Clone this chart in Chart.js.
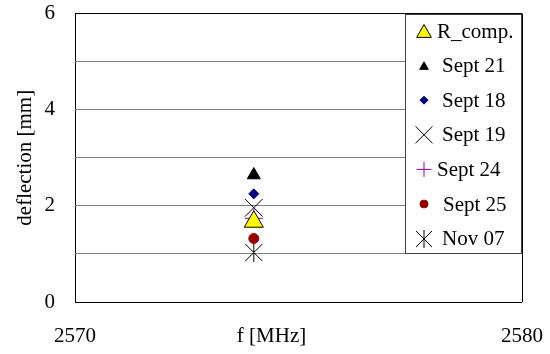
<!DOCTYPE html>
<html>
<head>
<meta charset="utf-8">
<script src="https://cdn.jsdelivr.net/npm/chart.js@4/dist/chart.umd.min.js"></script>
<style>
  html, body { margin: 0; padding: 0; background: #ffffff; }
  #wrap { width: 550px; height: 354px; }
</style>
</head>
<body>
<div id="wrap"><canvas id="c" width="550" height="354"></canvas></div>
<script>
// Measured deflection per run, all taken at the same frequency
const seriesNames   = ['R_comp.', 'Sept 21', 'Sept 18', 'Sept 19', 'Sept 24', 'Sept 25', 'Nov 07'];
const frequencyMHz  = [2574, 2574, 2574, 2574, 2574, 2574, 2574];
const deflectionMm  = [1.67, 2.64, 2.25, 1.96, 1.74, 1.32, 1.03];
const xTickValues   = [2570, 2580];
const yTickLabels   = [0, 2, 4, 6];

const FONT = '"Liberation Serif"';
Chart.defaults.font.family = FONT;

// Six-armed star (X plus a vertical bar) used for the Nov 07 run
function makeAsterisk(size) {
  const c = document.createElement('canvas');
  c.width = size; c.height = size;
  const g = c.getContext('2d');
  const m = size / 2, a = size / 2 - 1;
  g.strokeStyle = '#000000';
  g.lineWidth = 1;
  g.beginPath();
  g.moveTo(m - a, m - a); g.lineTo(m + a, m + a);
  g.moveTo(m + a, m - a); g.lineTo(m - a, m + a);
  g.moveTo(m, m - a - 1); g.lineTo(m, m + a + 1);
  g.stroke();
  return c;
}
const asteriskPlot = makeAsterisk(19);
const asteriskLegend = makeAsterisk(18);

// Marker style of each run, in the plot and in the legend
const markerStyles = [
  { pointStyle: 'triangle', radius: 11,  bg: '#FFFF00', border: '#000000', bw: 1, legendRadius: 8.5, textDx: 32 },
  { pointStyle: 'triangle', radius: 7.5, bg: '#000000', border: '#000000', bw: 1, legendRadius: 5,   textDx: 37 },
  { pointStyle: 'rectRot',  radius: 5,   bg: '#000080', border: '#000080', bw: 1, legendRadius: 4,   textDx: 37 },
  { pointStyle: 'crossRot', radius: 12.5,bg: '#000000', border: '#000000', bw: 1, legendRadius: 12,  textDx: 37 },
  { pointStyle: 'cross',    radius: 9,   bg: '#990099', border: '#990099', bw: 1, legendRadius: 7.5, textDx: 32 },
  { pointStyle: 'circle',   radius: 5,   bg: '#990000', border: '#990000', bw: 1, legendRadius: 4,   textDx: 38 },
  { pointStyle: asteriskPlot, radius: 9, bg: '#000000', border: '#000000', bw: 1, legendImage: asteriskLegend, textDx: 37 }
];

const datasets = seriesNames.map((name, i) => ({
  label: name,
  data: [{ x: frequencyMHz[i], y: deflectionMm[i] }],
  showLine: false,
  pointStyle: markerStyles[i].pointStyle,
  pointRadius: markerStyles[i].radius,
  pointHoverRadius: markerStyles[i].radius,
  pointBackgroundColor: markerStyles[i].bg,
  pointBorderColor: markerStyles[i].border,
  pointBorderWidth: markerStyles[i].bw
}));

// Boxed legend in the top-right corner of the plot area
const boxedLegend = {
  id: 'boxedLegend',
  afterDraw(chart) {
    const ctx = chart.ctx;
    const area = chart.chartArea;
    const right = Math.round(area.right), top = Math.round(area.top);
    const left = right - 117, bottom = top + 239;
    ctx.save();
    ctx.fillStyle = '#ffffff';
    ctx.fillRect(left, top, right - left, bottom - top);
    ctx.strokeStyle = '#404040';
    ctx.lineWidth = 1;
    ctx.strokeRect(left + 0.5, top + 0.5, right - left - 1, bottom - top);
    ctx.font = '21px ' + FONT;
    ctx.textBaseline = 'middle';
    ctx.textAlign = 'left';
    seriesNames.forEach((name, i) => {
      const st = markerStyles[i];
      const y = top + 17 + i * 34.6;
      const mx = left + 19;
      if (st.legendImage) {
        ctx.drawImage(st.legendImage, Math.round(mx - st.legendImage.width / 2), Math.round(y - st.legendImage.height / 2));
      } else if (Chart.helpers && Chart.helpers.drawPoint) {
        ctx.fillStyle = st.bg;
        ctx.strokeStyle = st.border;
        ctx.lineWidth = st.bw;
        Chart.helpers.drawPoint(ctx, { pointStyle: st.pointStyle, radius: st.legendRadius, rotation: 0, borderWidth: st.bw }, mx, y + (st.pointStyle === 'triangle' ? st.legendRadius / 4 : 0));
      }
      ctx.fillStyle = '#000000';
      ctx.font = '21px ' + FONT;
      ctx.fillText(name, left + st.textDx, y + 1);
    });
    ctx.restore();
  }
};

// Horizontal axis caption, sitting on the same line as the tick labels
const xCaption = {
  id: 'xCaption',
  afterDraw(chart) {
    const ctx = chart.ctx;
    const area = chart.chartArea;
    ctx.save();
    ctx.font = '21px ' + FONT;
    ctx.fillStyle = '#000000';
    ctx.textAlign = 'center';
    ctx.textBaseline = 'alphabetic';
    ctx.fillText('f [MHz]', (area.left + area.right) / 2 - 27, area.bottom + 40);
    ctx.restore();
  }
};

new Chart(document.getElementById('c'), {
  type: 'scatter',
  data: { datasets },
  options: {
    responsive: false,
    animation: false,
    devicePixelRatio: 1,
    layout: { padding: { top: 11, right: 28, left: 0, bottom: 0 } },
    plugins: { legend: { display: false }, tooltip: { enabled: false } },
    scales: {
      x: {
        type: 'linear',
        min: 2570,
        max: 2580,
        afterBuildTicks: (scale) => { scale.ticks = xTickValues.map(v => ({ value: v })); },
        afterFit: (scale) => { scale.height = 52; },
        ticks: {
          color: '#000000',
          font: { family: FONT, size: 21, lineHeight: 1 },
          padding: 0,
          maxRotation: 0,
          autoSkip: false,
          callback: (v) => String(v)
        },
        grid: { color: '#000000', lineWidth: 1, drawTicks: true, tickLength: 24, tickColor: 'rgba(0,0,0,0)' },
        border: { display: false }
      },
      y: {
        min: 0,
        max: 6,
        afterFit: (scale) => { scale.width = 75; },
        ticks: {
          stepSize: 1,
          autoSkip: false,
          color: '#000000',
          font: { family: FONT, size: 21, lineHeight: 1 },
          padding: 0,
          callback: (v) => (yTickLabels.includes(v) ? String(v) : '')
        },
        grid: {
          lineWidth: 1,
          drawTicks: true,
          tickLength: 20,
          tickColor: 'rgba(0,0,0,0)',
          color: (ctx) => (ctx.tick && (ctx.tick.value === 0 || ctx.tick.value === 6) ? '#000000' : '#808080')
        },
        border: { display: false },
        title: {
          display: true,
          text: 'deflection [mm]',
          color: '#000000',
          font: { family: FONT, size: 21 },
          padding: { top: 13, bottom: 0 }
        }
      }
    }
  },
  plugins: [boxedLegend, xCaption]
});
</script>
</body>
</html>
